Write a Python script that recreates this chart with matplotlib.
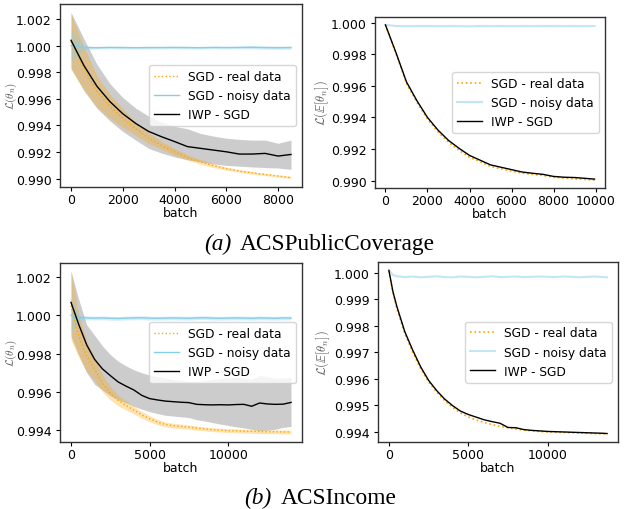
import matplotlib
matplotlib.use("Agg")
import matplotlib.pyplot as plt
import numpy as np
from matplotlib.ticker import FormatStrFormatter

REAL = "#FFA500"
NOISY = "#87CEEB"
IWP = "black"

# ---- (a) ACSPublicCoverage, loss of individual iterates ----
pc_batch = list(range(0, 9000, 500))
pc_real = [1.0003, 0.9983, 0.99655, 0.99545, 0.99455, 0.99375, 0.99305, 0.9925, 0.99202,
           0.9916, 0.99126, 0.99098, 0.99075, 0.99058, 0.99044, 0.99032, 0.9902, 0.99008]
pc_real_sd = [0.0021, 0.0016, 0.0012, 0.0009, 0.0007, 0.0005, 0.0004, 0.0003, 0.00025,
              0.0002, 0.00018, 0.00015, 0.00012, 0.0001, 0.0001, 0.00008, 0.00008, 0.00008]
pc_noisy = [1.0000, 0.99985, 0.99984, 0.99986, 0.99985, 0.99984, 0.99985, 0.99985, 0.99986,
            0.99985, 0.99984, 0.99986, 0.99985, 0.99986, 0.99987, 0.99985, 0.99984, 0.99985]
pc_noisy_sd = [0.0012, 0.00015, 0.0001, 0.0001, 0.0001, 0.0001, 0.0001, 0.0001, 0.0001,
               0.0001, 0.0001, 0.0001, 0.0001, 0.0001, 0.00012, 0.00012, 0.00012, 0.00012]
pc_iwp = [1.0004, 0.9985, 0.99695, 0.9958, 0.99488, 0.99415, 0.99355, 0.99315, 0.99279,
          0.99241, 0.99228, 0.99215, 0.99202, 0.99185, 0.99185, 0.9919, 0.9917, 0.99182]
pc_iwp_lo = [0.9983, 0.9966, 0.9953, 0.99435, 0.99355, 0.9929, 0.99228, 0.99192, 0.99164,
             0.99142, 0.99126, 0.99112, 0.991, 0.99094, 0.99088, 0.99084, 0.9908, 0.9907]
pc_iwp_hi = [1.0025, 1.0005, 0.9986, 0.99715, 0.9961, 0.9953, 0.9947, 0.99425, 0.99393,
             0.99375, 0.9934, 0.9932, 0.99304, 0.99295, 0.9929, 0.9929, 0.99266, 0.9929]

# ---- (a) ACSPublicCoverage, loss of averaged parameters ----
pc_avg_batch = list(range(0, 10000, 500)) + [9950]
pc_avg_real = [0.99984, 0.99805, 0.99615, 0.99495, 0.9939, 0.99308, 0.99243, 0.99192, 0.99148,
               0.9912, 0.9909, 0.99075, 0.9906, 0.99048, 0.9904, 0.99033, 0.99022, 0.99017,
               0.99012, 0.99008, 0.99003]
pc_avg_noisy = [0.99986, 0.99978, 0.99977, 0.99978, 0.99978, 0.99977, 0.99978, 0.99977, 0.99976,
                0.99978, 0.99977, 0.99978, 0.99977, 0.99978, 0.99977, 0.99978, 0.99978, 0.99977,
                0.99978, 0.99977, 0.99978]
pc_avg_iwp = [0.99985, 0.9981, 0.99625, 0.99505, 0.994, 0.9932, 0.99255, 0.99205, 0.9916,
              0.9913, 0.991, 0.99085, 0.9907, 0.99055, 0.99047, 0.9904, 0.99027, 0.99022,
              0.9902, 0.99015, 0.9901]

# ---- (b) ACSIncome, loss of individual iterates ----
inc_batch = list(range(0, 14500, 500))
inc_real = [1.0005, 0.9989, 0.99785, 0.9972, 0.99645, 0.99593, 0.99555, 0.9953, 0.99505, 0.9948,
            0.9946, 0.99443, 0.9943, 0.99424, 0.9942, 0.99416, 0.99411, 0.99407, 0.99403, 0.994,
            0.99398, 0.99397, 0.99395, 0.99394, 0.99393, 0.99392, 0.99392, 0.99391, 0.99391]
inc_real_sd = [0.0018, 0.0011, 0.0008, 0.0006, 0.00045, 0.00035, 0.00028, 0.00024, 0.0002, 0.00018,
               0.00016, 0.00014, 0.00013, 0.00012, 0.00012, 0.00011, 0.00011, 0.0001, 0.0001, 0.0001,
               0.0001, 0.0001, 0.0001, 0.0001, 0.0001, 0.0001, 0.0001, 0.0001, 0.0001]
inc_noisy = [1.0000, 0.99987, 0.99986, 0.99985, 0.99986, 0.99984, 0.99983, 0.99985, 0.99986, 0.99987,
             0.99985, 0.99984, 0.99985, 0.99986, 0.99985, 0.99984, 0.99986, 0.99987, 0.99985, 0.99984,
             0.99985, 0.99986, 0.99985, 0.99984, 0.99986, 0.99985, 0.99984, 0.99986, 0.99985]
inc_noisy_sd = [0.0009, 0.00015] + [0.0001] * 27
inc_iwp = [1.00067, 0.9995, 0.99845, 0.9977, 0.9972, 0.99685, 0.99652, 0.9963, 0.9961, 0.99582,
           0.99565, 0.99558, 0.99552, 0.99549, 0.99546, 0.99544, 0.99535, 0.99533, 0.99532, 0.99533,
           0.99532, 0.99534, 0.99535, 0.99525, 0.99542, 0.99537, 0.99535, 0.99536, 0.99545]
inc_iwp_lo = [0.9989, 0.9979, 0.997, 0.9964, 0.9961, 0.9958, 0.99558, 0.99543, 0.99525, 0.9951,
              0.99497, 0.99487, 0.99478, 0.99474, 0.9947, 0.99466, 0.99455, 0.99448, 0.9944, 0.99432,
              0.99425, 0.99418, 0.99412, 0.99405, 0.99398, 0.994, 0.99405, 0.99415, 0.9942]
inc_iwp_hi = [1.0023, 1.0008, 0.9995, 0.99895, 0.9984, 0.99795, 0.9976, 0.99736, 0.99715, 0.997,
              0.99688, 0.9968, 0.99672, 0.99664, 0.9966, 0.99655, 0.99655, 0.99658, 0.99665, 0.9967,
              0.99673, 0.99675, 0.99672, 0.99665, 0.99685, 0.9968, 0.9967, 0.99672, 0.99675]

# ---- (b) ACSIncome, loss of averaged parameters ----
inc_avg_batch = [0, 250] + list(range(500, 14000, 500)) + [13750]
inc_avg_real = [1.00007, 0.99925, 0.99865, 0.9977, 0.997, 0.99638, 0.99588, 0.9955, 0.99518, 0.99492,
                0.99471, 0.99456, 0.99444, 0.99435, 0.99427, 0.9942, 0.99415, 0.9941, 0.99406, 0.99403,
                0.99401, 0.99399, 0.99398, 0.99397, 0.99396, 0.99395, 0.99394, 0.99393, 0.99392, 0.99392]
inc_avg_noisy = [1.0001, 0.99992, 0.99987, 0.99984, 0.99986, 0.99983, 0.99985, 0.99987, 0.99984, 0.99983,
                 0.99986, 0.99985, 0.99983, 0.99985, 0.99987, 0.99984, 0.99985, 0.99986, 0.99984, 0.99985,
                 0.99986, 0.99985, 0.99984, 0.99986, 0.99985, 0.99983, 0.99985, 0.99986, 0.99984, 0.99983]
inc_avg_iwp = [1.00009, 0.9993, 0.99873, 0.99778, 0.99708, 0.99645, 0.99594, 0.99556, 0.99524, 0.99499,
               0.99478, 0.99465, 0.99455, 0.99445, 0.99438, 0.99432, 0.99416, 0.99415, 0.99408, 0.99405,
               0.99403, 0.99401, 0.994, 0.99399, 0.99398, 0.99397, 0.99396, 0.99395, 0.99394, 0.99393]

TICK_FS = 9
LEGEND_FS = 8.8


def style_axes(ax, xticks, yticks, ylabel, label_x, label_fs=9):
    ax.set_xticks(xticks)
    ax.set_yticks(yticks)
    ax.yaxis.set_major_formatter(FormatStrFormatter("%.3f"))
    ax.tick_params(labelsize=TICK_FS, length=3, width=0.8)
    ax.tick_params(axis="x", pad=1.5)
    ax.tick_params(axis="y", pad=3)
    ax.set_xlabel("batch", fontsize=TICK_FS, labelpad=0)
    ax.set_ylabel(ylabel, fontsize=label_fs, color="0.35", math_fontfamily="cm")
    ax.yaxis.set_label_coords(label_x, 0.5)
    for s in ax.spines.values():
        s.set_color("0.2")
        s.set_linewidth(1.0)
    ax.legend(loc="center right", fontsize=LEGEND_FS, framealpha=0.8)


def iterate_panel(ax, x, real, real_sd, noisy, noisy_sd, iwp, lo, hi):
    x = np.asarray(x)
    real, real_sd = np.asarray(real), np.asarray(real_sd)
    noisy, noisy_sd = np.asarray(noisy), np.asarray(noisy_sd)
    ax.fill_between(x, lo, hi, color="gray", alpha=0.4, lw=0)
    ax.fill_between(x, real - real_sd, real + real_sd, color=REAL, alpha=0.3, lw=0)
    ax.fill_between(x, noisy - noisy_sd, noisy + noisy_sd, color=NOISY, alpha=0.35, lw=0)
    ax.plot(x, real, ":", color=REAL, lw=1.0, label="SGD - real data")
    ax.plot(x, noisy, "-", color=NOISY, lw=1.0, label="SGD - noisy data")
    ax.plot(x, iwp, "-", color=IWP, lw=1.0, label="IWP - SGD")


def average_panel(ax, x, real, noisy, iwp):
    ax.plot(x, real, ":", color=REAL, lw=1.2, label="SGD - real data")
    ax.plot(x, noisy, "-", color=NOISY, lw=1.5, alpha=0.5, label="SGD - noisy data")
    ax.plot(x, iwp, "-", color=IWP, lw=1.0, label="IWP - SGD")


W, H = 624, 510
fig = plt.figure(figsize=(W / 100, H / 100), dpi=100)


def px_axes(x0, y0, x1, y1):
    return fig.add_axes([x0 / W, 1 - y1 / H, (x1 - x0) / W, (y1 - y0) / H])


ax1 = px_axes(60, 5, 302, 188)
iterate_panel(ax1, pc_batch, pc_real, pc_real_sd, pc_noisy, pc_noisy_sd, pc_iwp, pc_iwp_lo, pc_iwp_hi)
style_axes(ax1, [0, 2000, 4000, 6000, 8000], np.arange(0.990, 1.0021, 0.002),
           r"$\mathcal{L}(\theta_n)$", -0.17, 8)

ax2 = px_axes(375, 18, 605, 189)
average_panel(ax2, pc_avg_batch, pc_avg_real, pc_avg_noisy, pc_avg_iwp)
style_axes(ax2, [0, 2000, 4000, 6000, 8000, 10000], np.arange(0.990, 1.0001, 0.002),
           r"$\mathcal{L}(\mathbb{E}[\theta_n])$", -0.19)

ax3 = px_axes(60, 264, 302, 443)
iterate_panel(ax3, inc_batch, inc_real, inc_real_sd, inc_noisy, inc_noisy_sd, inc_iwp, inc_iwp_lo, inc_iwp_hi)
style_axes(ax3, [0, 5000, 10000], np.arange(0.994, 1.0021, 0.002),
           r"$\mathcal{L}(\theta_n)$", -0.17, 8)

ax4 = px_axes(378, 263, 618, 443)
average_panel(ax4, inc_avg_batch, inc_avg_real, inc_avg_noisy, inc_avg_iwp)
style_axes(ax4, [0, 5000, 10000], np.arange(0.994, 1.0001, 0.001),
           r"$\mathcal{L}(\mathbb{E}[\theta_n])$", -0.19)

# sub-figure captions
cap = dict(family="Liberation Serif", fontsize=16.8, va="baseline", ha="left")
fig.text(204 / W, 1 - 250 / H, "(a)", style="italic", **cap)
fig.text(240 / W, 1 - 250 / H, "ACSPublicCoverage", **cap)
fig.text(244 / W, 1 - 504 / H, "(b)", style="italic", **cap)
fig.text(281 / W, 1 - 504 / H, "ACSIncome", **cap)

fig.savefig("out.png", dpi=100)
